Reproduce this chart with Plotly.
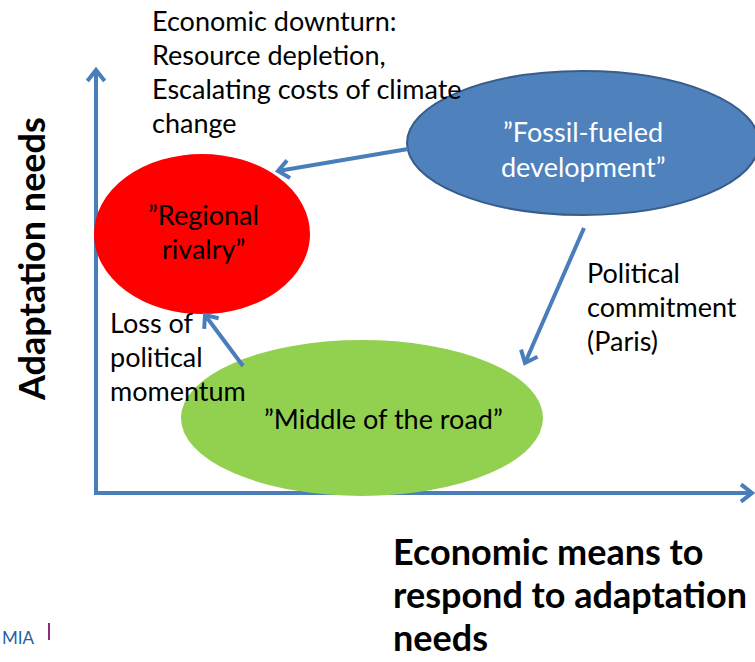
import math
import plotly.graph_objects as go

# ---- diagram content ----
scenario_labels = [["”Fossil-fueled", "development”"], ["”Regional", "rivalry”"], ["”Middle of the road”"]]
scenario_cx = [583, 202, 362]
scenario_cy = [143, 234, 418]
scenario_rx = [176, 107, 180]
scenario_ry = [72, 79, 77]
scenario_fill = ["#4F81BD", "#FF0000", "#92D050"]
scenario_line = ["#385D8A", "#FF0000", "#92D050"]
scenario_text_color = ["white", "black", "black"]
scenario_text_y = [[131, 166], [214, 248], [418]]
scenario_text_x = [583, 203, 383]

transition_from = [(408, 149), (584, 228), (243, 366)]
transition_to = [(278, 171), (525, 363), (205, 315)]

note_lines = [
    ["Economic downturn:", "Resource depletion,", "Escalating costs of climate", "change"],
    ["Political", "commitment", "(Paris)"],
    ["Loss of", "political", "momentum"],
]
note_x = [150, 585, 108]
note_y0 = [20, 272, 322]
note_dy = 34

x_title_lines = ["Economic means to", "respond to adaptation", "needs"]
y_title = "Adaptation needs"

W, H = 755, 662
BLUE = "#4A7EBB"
FONT = "Lato"
FS = 27
FSB = 36

fig = go.Figure()
shapes = []
annotations = []

def arrow(p0, p1, width=4, head=14, ang=38):
    x0, y0 = p0
    x1, y1 = p1
    th = math.atan2(y1 - y0, x1 - x0)
    a = math.radians(ang)
    hx1 = x1 - head * math.cos(th - a)
    hy1 = y1 - head * math.sin(th - a)
    hx2 = x1 - head * math.cos(th + a)
    hy2 = y1 - head * math.sin(th + a)
    shapes.append(dict(type="line", x0=x0, y0=y0, x1=x1, y1=y1, xref="x", yref="y",
                       line=dict(color=BLUE, width=width)))
    shapes.append(dict(type="path", xref="x", yref="y",
                       path=f"M {hx1},{hy1} L {x1},{y1} L {hx2},{hy2}",
                       line=dict(color=BLUE, width=width)))

# axes
arrow((96, 495), (96, 70))
arrow((94, 493), (752, 493))

# ellipses
for i in range(3):
    shapes.append(dict(type="circle", xref="x", yref="y",
                       x0=scenario_cx[i] - scenario_rx[i], x1=scenario_cx[i] + scenario_rx[i],
                       y0=scenario_cy[i] - scenario_ry[i], y1=scenario_cy[i] + scenario_ry[i],
                       fillcolor=scenario_fill[i], line=dict(color=scenario_line[i], width=2),
                       layer="above"))
    for lab, ty in zip(scenario_labels[i], scenario_text_y[i]):
        annotations.append(dict(x=scenario_text_x[i], y=ty, text=lab, showarrow=False,
                                xanchor="center", yanchor="middle",
                                font=dict(family=FONT, size=FS, color=scenario_text_color[i])))

# transitions
for p0, p1 in zip(transition_from, transition_to):
    arrow(p0, p1, width=4, head=14, ang=40)

# notes
for lines, nx, ny in zip(note_lines, note_x, note_y0):
    for k, t in enumerate(lines):
        annotations.append(dict(x=nx, y=ny + k * note_dy, text=t, showarrow=False,
                                xanchor="left", yanchor="middle",
                                font=dict(family=FONT, size=FS, color="black")))

# axis titles
for k, t in enumerate(x_title_lines):
    annotations.append(dict(x=392, y=551 + k * 43, text=f"<b>{t}</b>", showarrow=False,
                            xanchor="left", yanchor="middle", borderpad=0,
                            font=dict(family=FONT, size=FSB, color="black")))
annotations.append(dict(x=31, y=259, text=f"<b>{y_title}</b>", showarrow=False, textangle=-90,
                        xanchor="center", yanchor="middle",
                        font=dict(family=FONT, size=FSB, color="black")))

# footer
annotations.append(dict(x=0.5, y=637, text="MIA", showarrow=False, xanchor="left", yanchor="middle",
                        font=dict(family=FONT, size=17, color="#1F5FA8"), borderpad=0))
shapes.append(dict(type="line", xref="x", yref="y", x0=49, x1=49, y0=623, y1=640,
                   line=dict(color="#8B2C7E", width=2)))

fig.update_layout(
    width=W, height=H, margin=dict(l=0, r=0, t=0, b=0),
    paper_bgcolor="white", plot_bgcolor="white",
    xaxis=dict(range=[0, W], visible=False, fixedrange=True),
    yaxis=dict(range=[H, 0], visible=False, fixedrange=True),
    shapes=shapes, annotations=annotations, showlegend=False,
)
fig.write_html("out.html", config={"displayModeBar": False},
               post_script="document.body.style.margin='0';")
